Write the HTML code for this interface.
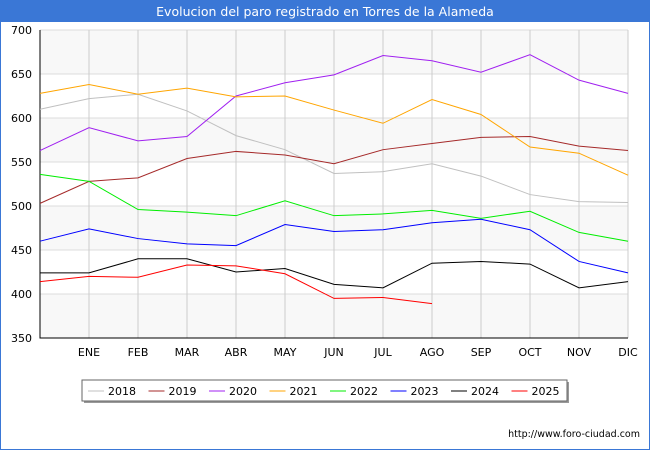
<!DOCTYPE html>
<html><head><meta charset="utf-8"><style>
body{margin:0;background:#fff;font-family:"DejaVu Sans",sans-serif}
</style></head><body>
<svg width="650" height="450" xmlns="http://www.w3.org/2000/svg" id="svg" font-family="DejaVu Sans, sans-serif">
<rect x="0" y="0" width="650" height="450" fill="#fff"/>
<rect x="0.5" y="0.5" width="649" height="449" fill="none" stroke="#3a77d6"/>
<rect x="0" y="0" width="650" height="22" fill="#3a77d6"/>
<text x="325" y="16" text-anchor="middle" fill="#fff" font-size="12.5">Evolucion del paro registrado en Torres de la Alameda</text>
<g id="grid"></g><g id="axes"></g><g id="series"></g>
<rect x="84" y="382" width="485" height="21" fill="#999"/>
<rect x="82" y="380" width="485" height="21" fill="#fff" stroke="#666"/>
<g id="legend"></g>
<text x="640" y="437" text-anchor="end" font-size="9.5" fill="#000">http://www.foro-ciudad.com</text>
</svg>
<script>
const months=["","ENE","FEB","MAR","ABR","MAY","JUN","JUL","AGO","SEP","OCT","NOV","DIC"];
const yTicks=[350,400,450,500,550,600,650,700];
const years=["2018","2019","2020","2021","2022","2023","2024","2025"];
const colors=["#c0c0c0","#a52a2a","#a020f0","#ffa500","#00ee00","#0000ff","#000000","#ff0000"];
const s2018=[610,622,627,608,580,564,537,539,548,534,513,505,504];
const s2019=[503,528,532,554,562,558,548,564,571,578,579,568,563];
const s2020=[563,589,574,579,625,640,649,671,665,652,672,643,628];
const s2021=[628,638,627,634,624,625,609,594,621,604,567,560,535];
const s2022=[536,528,496,493,489,506,489,491,495,486,494,470,460];
const s2023=[460,474,463,457,455,479,471,473,481,485,473,437,424];
const s2024=[424,424,440,440,425,429,411,407,435,437,434,407,414];
const s2025=[414,420,419,433,432,423,395,396,389];
const series=[s2018,s2019,s2020,s2021,s2022,s2023,s2024,s2025];
const NS="http://www.w3.org/2000/svg";
const X0=40,X1=628,Y0=338,Y1=30;
const xs=i=>X0+i*(X1-X0)/12;
const ys=v=>Y0-(v-350)*(Y0-Y1)/350;
function mk(t,a,p){const e=document.createElementNS(NS,t);for(const k in a)e.setAttribute(k,a[k]);p.appendChild(e);return e;}
const grid=document.getElementById('grid'),axes=document.getElementById('axes'),ser=document.getElementById('series'),leg=document.getElementById('legend');
for(let i=0;i<yTicks.length-1;i++){
 if(i%2==0){const r=mk('rect',{x:X0,y:ys(yTicks[i+1]),width:X1-X0,height:ys(yTicks[i])-ys(yTicks[i+1]),fill:'#f8f8f8'},grid);
 
 }
}
yTicks.forEach(v=>{
 const l=mk('line',{x1:X0,x2:X1,y1:ys(v),y2:ys(v),stroke:'#ddd'},grid);
 
 
 const t=mk('text',{x:X0-8,y:ys(v)+4,'text-anchor':'end','font-size':11,fill:'#000'},axes);t.textContent=v;
 
 
});
months.forEach((m,i)=>{
 const l=mk('line',{x1:xs(i),x2:xs(i),y1:Y1,y2:Y0,stroke:'#ccc'},grid);
 
 
 if(m){const t=mk('text',{x:xs(i),y:356,'text-anchor':'middle','font-size':11,fill:'#000'},axes);t.textContent=m;
 
 }
});
const ax=mk('path',{d:`M${X0} ${Y1}V${Y0}H${X1}`,fill:'none',stroke:'#000'},axes);


series.forEach((s,k)=>{
 const p=mk('polyline',{points:s.map((v,i)=>xs(i)+','+ys(v)).join(' '),fill:'none',stroke:colors[k],'stroke-width':1},ser);
 
 
});
years.forEach((y,k)=>{
 const x=88+k*60.5;
 const l=mk('line',{x1:x,x2:x+16,y1:391,y2:391,stroke:colors[k]},leg);
 
 
 const t=mk('text',{x:x+20,y:395,'font-size':11,fill:'#000'},leg);t.textContent=y;
 
 
});
</script>
</body></html>
